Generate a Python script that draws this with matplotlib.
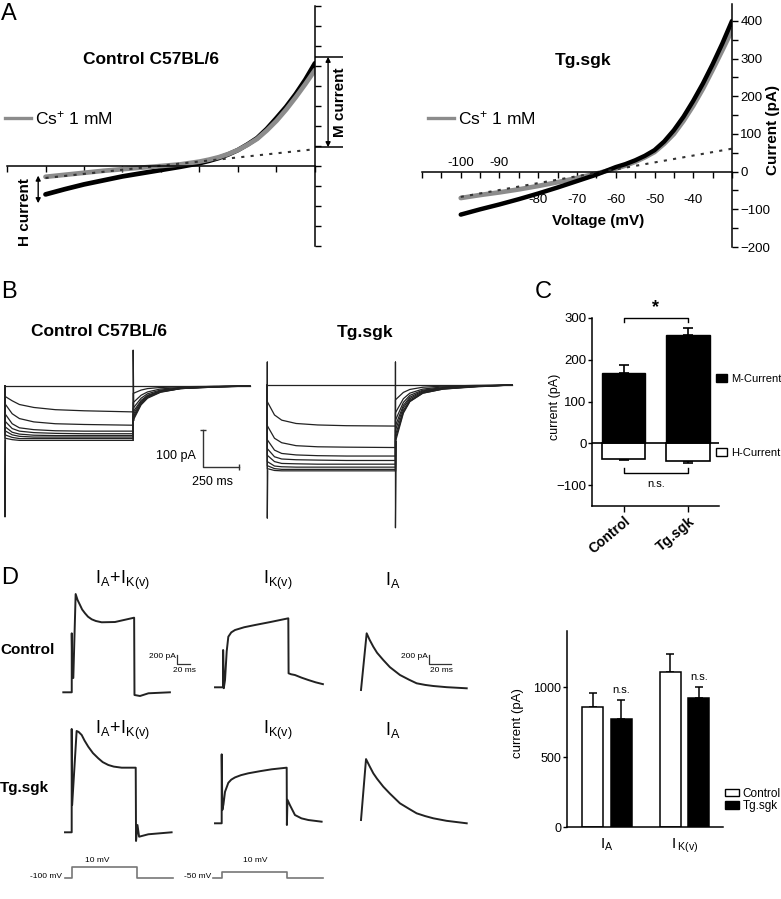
import matplotlib
matplotlib.use('Agg')
import matplotlib.pyplot as plt
from matplotlib.lines import Line2D
from matplotlib.patches import Patch

plt.rcParams['font.family'] = ['Liberation Sans', 'DejaVu Sans']
plt.rcParams['mathtext.default'] = 'regular'

# ---------------- data ----------------
# A: I-V ramps (mV, pA)
V_IV = [-100, -95, -90, -85, -80, -75, -70, -65, -60, -57.5, -55, -52.5, -50, -47.5,
        -45, -42.5, -40, -37.5, -35, -32.5, -30]
ctrl_black = [-71, -58, -46, -36, -26, -18, -10, -2, 7, 13, 20, 29, 40, 54,
              70, 93, 120, 148, 180, 216, 257]
ctrl_cs = [-27, -22, -17, -12, -8, -4, 0, 4, 11, 16, 22, 30, 40, 53,
           68, 89, 113, 141, 172, 205, 240]
tg_black = [-114, -100, -87, -73, -58, -42, -25, -8, 12, 20, 30, 42, 57, 80,
            110, 146, 188, 234, 285, 340, 400]
tg_cs = [-70, -62, -55, -47, -38, -28, -17, -5, 8, 16, 26, 38, 52, 74,
         100, 135, 175, 220, 270, 322, 375]
leak_v = [-100, -30]
ctrl_leak = [-30, 42]
tg_leak = [-67, 61]
ctrl_M = [47, 273]
ctrl_H = [-24, -93]

# B: current traces (ms, pA)
T_B = [0, 0, 50, 100, 200, 350, 550, 890, 890, 945, 990, 1080, 1220, 1450, 1700]
B_ctrl = [
    [0, 0, 0, 0, 0, 0, 0, 0, 0, 0, 0, 0, 0, 0, 0],
    [0, -28, -40, -50, -58, -64, -67, -70, -20, -11, -7, -4, -2, -1, 0],
    [0, -48, -75, -88, -97, -102, -104, -106, -45, -25, -16, -8, -4, -1, 0],
    [0, -75, -102, -113, -118, -121, -122, -122, -60, -33, -21, -11, -5, -2, 0],
    [0, -95, -115, -122, -126, -128, -129, -129, -70, -39, -25, -13, -6, -2, 0],
    [0, -110, -125, -130, -133, -134, -134, -134, -77, -42, -27, -14, -6, -2, 0],
    [0, -121, -132, -136, -138, -138, -138, -138, -83, -46, -29, -15, -7, -2, 0],
    [0, -132, -139, -142, -142, -142, -142, -142, -88, -48, -31, -16, -7, -3, 0],
    [0, -141, -145, -147, -147, -147, -147, -147, -93, -51, -33, -17, -7, -3, 0],
]
B_tg = [
    [0, 0, 0, 0, 0, 0, 0, 0, 0, 0, 0, 0, 0, 0, 0],
    [0, -45, -81, -95, -104, -108, -110, -111, -40, -20, -12, -6, -3, -1, 0],
    [0, -110, -144, -156, -164, -167, -168, -169, -75, -37, -22, -11, -5, -2, 0],
    [0, -148, -176, -185, -189, -191, -192, -192, -95, -47, -28, -14, -7, -3, 0],
    [0, -172, -194, -200, -202, -203, -204, -204, -110, -55, -33, -16, -8, -3, 0],
    [0, -190, -207, -212, -213, -214, -214, -214, -122, -61, -37, -18, -9, -4, 0],
    [0, -207, -219, -221, -222, -222, -222, -222, -135, -68, -41, -20, -10, -4, 0],
    [0, -218, -226, -228, -228, -228, -228, -228, -145, -73, -44, -22, -11, -4, 0],
    [0, -226, -231, -232, -232, -232, -232, -232, -153, -76, -45, -22, -11, -5, 0],
]
B_ctrl_on = ([0, 0, 3], [0, -354, -147])
B_ctrl_off = ([890, 890, 895], [-147, 97, -93])
B_tg_on = ([0, 0, 0, 3], [0, 62, -360, -232])
B_tg_off = ([890, 890, 890, 895], [-232, 62, -386, -153])

# C: M- and H-current (pA)
C_groups = ['Control', 'Tg.sgk']
M_mean = [168, 260]
M_err = [20, 17]
H_mean = [-38, -43]
H_err = [3, 3]

# D: traces (ms, pA)
D_c1_t = [0, 13, 13, 14, 15.4, 19, 22, 25.7, 29, 33.4, 38, 43.7, 50, 59, 79.5, 109,
          109.5, 118, 131, 164]
D_c1_i = [0, 0, 1311, 318, 318, 2184, 2050, 1940, 1840, 1756, 1680, 1622, 1585, 1556,
          1562, 1658, -60, -82, -22, 0]
D_c2_t = [0, 12.5, 12.5, 13.5, 15.4, 18, 20.5, 25, 30.8, 45, 61.5, 85, 112.8, 113.2,
          117, 123, 133, 143.6, 155, 166]
D_c2_i = [0, 0, 829, -20, 160, 800, 1124, 1220, 1273, 1335, 1384, 1450, 1533, 311,
          290, 273, 215, 162, 110, 70]
D_c3_t = [0, 5.3, 8, 11.5, 15, 20.8, 27, 36.4, 45, 52, 60, 67.6, 80, 98.8]
D_c3_i = [-38, 1222, 1080, 924, 790, 629, 470, 296, 190, 111, 75, 51, 25, 0]
D_t1_t = [0, 10.3, 10.3, 11, 17.9, 21, 25.7, 30, 35.8, 43, 51.2, 58, 66.6, 75, 87.2,
          108.8, 109.3, 111.5, 114, 128.2, 164]
D_t1_i = [0, 0, 2296, 607, 2251, 2230, 2162, 2040, 1902, 1760, 1644, 1560, 1496, 1460,
          1436, 1436, -193, 162, -98, -44, 0]
D_t2_t = [0, 10.3, 10.3, 11.3, 13, 15.4, 20.5, 25, 30.8, 40, 51.2, 70, 87.2, 110.3,
          110.6, 111.5, 115.4, 123, 133, 143.6, 164]
D_t2_i = [0, 0, 1533, 296, 420, 700, 900, 970, 1020, 1070, 1111, 1160, 1200, 1236,
          -38, 522, 400, 184, 110, 73, 36]
D_t3_t = [0, 4.7, 8, 11.5, 15, 20.8, 27, 36.4, 45, 52, 60, 67.6, 80, 98.8]
D_t3_i = [73, 1427, 1270, 1111, 990, 815, 660, 444, 320, 222, 160, 111, 55, 0]
P1_t = [0, 10.8, 10.8, 110.8, 110.8, 166]
P1_v = [-100, -100, 10, 10, -100, -100]
P2_t = [0, 13.8, 13.8, 113.8, 113.8, 169]
P2_v = [-50, -50, 10, 10, -50, -50]

# D: bar chart (pA)
D_groups = [r'$I_A$', r'$I\,_{K(v)}$']
D_ctrl = [860, 1105]
D_ctrl_err = [97, 130]
D_tg = [775, 918]
D_tg_err = [130, 80]

# ---------------- layout helpers ----------------
W, H = 781, 899
fig = plt.figure(figsize=(W / 100, H / 100), dpi=100)
fig.patch.set_facecolor('white')


def px_axes(x0, y0, x1, y1):
    ax = fig.add_axes([x0 / W, 1 - y1 / H, (x1 - x0) / W, (y1 - y0) / H])
    ax.patch.set_alpha(0)
    return ax


def trace_axes(ox, oy, sx, sy, xlim, ylim):
    # (ox, oy): pixel of data (0, 0); sx, sy: pixels per data unit
    ax = px_axes(ox + xlim[0] * sx, oy - ylim[1] * sy, ox + xlim[1] * sx, oy - ylim[0] * sy)
    ax.set_xlim(xlim)
    ax.set_ylim(ylim)
    ax.axis('off')
    return ax


def ftext(x, y, s, **kw):
    kw.setdefault('ha', 'center')
    kw.setdefault('va', 'center')
    fig.text(x / W, 1 - y / H, s, **kw)


GRAY = '#8c8c8c'

# ---------------- A ----------------
def iv_axes(box, ylim):
    ax = px_axes(*box)
    ax.set_xlim(-110, -30)
    ax.set_ylim(*ylim)
    ax.spines['top'].set_visible(False)
    ax.spines['left'].set_visible(False)
    ax.spines['bottom'].set_position(('data', 0))
    for s in ('bottom', 'right'):
        ax.spines[s].set_linewidth(1.1)
    ax.yaxis.tick_right()
    ax.tick_params(which='both', direction='out', width=1.0, length=4)
    return ax


axL = iv_axes((7, 6, 315, 246), (-200, 400))
axL.set_xticks(range(-110, -29, 10))
axL.set_yticks(range(-200, 401, 50))
axL.set_xticklabels([])
axL.set_yticklabels([])
axL.plot(V_IV, ctrl_black, color='black', lw=3.4, solid_capstyle='round', solid_joinstyle='round')
axL.plot(V_IV, ctrl_cs, color=GRAY, lw=3.4, solid_capstyle='round', solid_joinstyle='round')
axL.plot(leak_v, ctrl_leak, color='#333333', lw=1.5, ls=(0, (1.5, 3)))
# M current bracket
axL.hlines(ctrl_M, -30, -22.7, color='black', lw=1.1, clip_on=False)
axL.annotate('', xy=(-26.6, ctrl_M[0]), xytext=(-26.6, ctrl_M[1]),
             arrowprops=dict(arrowstyle='<|-|>', color='black', lw=1, mutation_scale=7,
                             shrinkA=0, shrinkB=0), annotation_clip=False)
axL.text(-23.4, sum(ctrl_M) / 2, 'M current', rotation=90, ha='center', va='center',
         fontsize=11, fontweight='bold', clip_on=False)
axL.annotate('', xy=(-101.9, ctrl_H[0]), xytext=(-101.9, ctrl_H[1]),
             arrowprops=dict(arrowstyle='<|-|>', color='black', lw=1, mutation_scale=7,
                             shrinkA=0, shrinkB=0), annotation_clip=False)
axL.text(-105.3, -115, 'H current', rotation=90, ha='center', va='center',
         fontsize=11, fontweight='bold', clip_on=False)

axR = iv_axes((422, 4, 732, 247), (-200, 445))
axR.set_xticks(range(-110, -29, 10))
axR.set_xticks(range(-105, -30, 10), minor=True)
axR.set_xticklabels([])
axR.set_yticks(range(-200, 401, 100))
axR.set_yticks(range(-150, 401, 100), minor=True)
axR.tick_params(axis='y', labelsize=9.5, pad=2)
axR.plot(V_IV, tg_cs, color=GRAY, lw=3.4, solid_capstyle='round', solid_joinstyle='round')
axR.plot(V_IV, tg_black, color='black', lw=3.2, solid_capstyle='round', solid_joinstyle='round')
axR.plot(leak_v, tg_leak, color='#333333', lw=1.5, ls=(0, (1.5, 3)))
for v in range(-100, -39, 10):
    axR.text(v, 23 if v <= -90 else -75, str(v), ha='center', va='center', fontsize=9.5)
ftext(598, 221, 'Voltage (mV)', fontsize=11, fontweight='bold')
ftext(773, 130, 'Current (pA)', fontsize=11, fontweight='bold', rotation=90)

for ax, x0 in ((axL, 5), (axR, 428)):
    ax.legend(handles=[Line2D([], [], color=GRAY, lw=2.4)], labels=[r'Cs$^{+}$ 1 mM'],
              loc='center left', bbox_to_anchor=(x0 / W, 1 - 118 / H),
              bbox_transform=fig.transFigure, frameon=False, fontsize=12.5,
              handlelength=1.5, handletextpad=0.25, borderpad=0, borderaxespad=0)

ftext(151, 59, 'Control C57BL/6', fontsize=12.5, fontweight='bold')
ftext(583, 61, 'Tg.sgk', fontsize=12.5, fontweight='bold')
ftext(1, 14, 'A', fontsize=17, ha='left')

# ---------------- B ----------------
SXB, SYB = 0.144, 0.37
axB1 = trace_axes(5, 386, SXB, SYB, (-20, 1720), (-400, 110))
axB2 = trace_axes(267.3, 385, SXB, SYB, (-20, 1720), (-420, 110))
for ax, traces, on, off in ((axB1, B_ctrl, B_ctrl_on, B_ctrl_off),
                            (axB2, B_tg, B_tg_on, B_tg_off)):
    for tr in traces:
        ax.plot(T_B, tr, color='#222222', lw=0.9)
    ax.plot(*on, color='#222222', lw=0.9)
    ax.plot(*off, color='#222222', lw=0.9)
# scale bar 100 pA / 250 ms
axB1.plot([1375, 1375, 1625], [-119, -219, -219], color='#333333', lw=1, clip_on=False)
axB1.plot([1375], [-119], marker='_', ms=5, color='#333333', clip_on=False)
axB1.plot([1625], [-219], marker='|', ms=5, color='#333333', clip_on=False)
ftext(196, 456, '100 pA', fontsize=9, ha='right')
ftext(212, 482, '250 ms', fontsize=9)
ftext(99, 332, 'Control C57BL/6', fontsize=12.5, fontweight='bold')
ftext(365, 332, 'Tg.sgk', fontsize=12.5, fontweight='bold')
ftext(1, 292, 'B', fontsize=17, ha='left')

# ---------------- C ----------------
axC = px_axes(592, 318, 719, 506)
xc = list(range(len(C_groups)))
axC.bar(xc, M_mean, width=0.67, color='black', edgecolor='black', lw=1, zorder=2)
axC.bar(xc, H_mean, width=0.67, color='white', edgecolor='black', lw=1.2, zorder=2)
axC.errorbar(xc, M_mean, yerr=[[0] * len(xc), M_err], fmt='none', ecolor='black',
             elinewidth=1.2, capsize=3.6, capthick=1.2, zorder=1)
axC.errorbar(xc, H_mean, yerr=[H_err, [0] * len(xc)], fmt='none', ecolor='black',
             elinewidth=1.2, capsize=3.6, capthick=1.2, zorder=1)
axC.axhline(0, color='black', lw=1.2, zorder=3)
axC.set_xlim(-0.49, 1.48)
axC.set_ylim(-150, 300)
axC.set_yticks([-100, 0, 100, 200, 300])
axC.set_xticks(xc)
axC.set_xticklabels(C_groups, rotation=40, ha='right', rotation_mode='anchor',
                    fontsize=10, fontweight='bold')
axC.tick_params(axis='y', labelsize=9.5, length=3, width=1, pad=1)
axC.tick_params(axis='x', length=4, width=1, pad=2)
for s in ('top', 'right'):
    axC.spines[s].set_visible(False)
for s in ('left', 'bottom'):
    axC.spines[s].set_linewidth(1.1)
top = max(m + e for m, e in zip(M_mean, M_err))
axC.plot([0, 0, 1, 1], [top + 13, top + 23, top + 23, top + 13], color='black', lw=1, clip_on=False)
axC.text(0.5, top + 47, '*', ha='center', va='center', fontsize=13, fontweight='bold')
axC.plot([0, 0, 1, 1], [-59, -71, -71, -59], color='black', lw=1, clip_on=False)
axC.text(0.5, -97, 'n.s.', ha='center', va='center', fontsize=8)
lg1 = axC.legend(handles=[Patch(fc='black', ec='black')], labels=['M-Current'],
                 loc='center left', bbox_to_anchor=(716 / W, 1 - 379 / H),
                 bbox_transform=fig.transFigure, frameon=False, fontsize=8,
                 handlelength=1.0, handleheight=0.8, handletextpad=0.35,
                 borderpad=0, borderaxespad=0)
axC.add_artist(lg1)
axC.legend(handles=[Patch(fc='white', ec='black')], labels=['H-Current'],
           loc='center left', bbox_to_anchor=(716 / W, 1 - 453 / H),
           bbox_transform=fig.transFigure, frameon=False, fontsize=8,
           handlelength=1.0, handleheight=0.8, handletextpad=0.35,
           borderpad=0, borderaxespad=0)
ftext(555, 407, 'current (pA)', fontsize=9, rotation=90)
ftext(535, 292, 'C', fontsize=17, ha='left')

# ---------------- D traces ----------------
SXD, SYD = 0.65, 0.045
SXA = 1.07
trace_kw = dict(color='#222222', lw=1.4, solid_joinstyle='round')
axD1 = trace_axes(63.3, 692.3, SXD, SYD, (-2, 170), (-400, 2500))
axD1.plot(D_c1_t, D_c1_i, **trace_kw)
axD2 = trace_axes(215, 687.3, SXD, SYD, (-2, 170), (-400, 2500))
axD2.plot(D_c2_t, D_c2_i, **trace_kw)
axD3 = trace_axes(361, 688.3, SXA, SYD, (-2, 102), (-400, 2500))
axD3.plot(D_c3_t, D_c3_i, **trace_kw)
axD4 = trace_axes(65, 832.3, SXD, SYD, (-2, 170), (-400, 2500))
axD4.plot(D_t1_t, D_t1_i, **trace_kw)
axD5 = trace_axes(215, 823.3, SXD, SYD, (-2, 170), (-400, 2500))
axD5.plot(D_t2_t, D_t2_i, **trace_kw)
axD6 = trace_axes(361, 823.3, SXA, SYD, (-2, 102), (-400, 2500))
axD6.plot(D_t3_t, D_t3_i, **trace_kw)
# scale bars 200 pA / 20 ms
for ax, t0, i0 in ((axD1, 174.5, 629), (axD3, 63.8, 540)):
    ax.plot([t0, t0, t0 + 20], [i0 + 200, i0, i0], color='#333333', lw=0.9, clip_on=False)
ftext(176, 657, '200 pA', fontsize=6, ha='right')
ftext(184, 670, '20 ms', fontsize=6)
ftext(428, 657, '200 pA', fontsize=6, ha='right')
ftext(441, 670, '20 ms', fontsize=6)
# voltage protocols
axP1 = trace_axes(65, 868, SXD, 0.1, (-2, 170), (-120, 30))
axP1.plot(P1_t, P1_v, color='#777777', lw=1.2)
axP2 = trace_axes(213, 873, SXD, 0.1, (-2, 170), (-70, 30))
axP2.plot(P2_t, P2_v, color='#777777', lw=1.2)
ftext(62, 876, '-100 mV', fontsize=6, ha='right')
ftext(97, 861, '10 mV', fontsize=6)
ftext(211, 876, '-50 mV', fontsize=6, ha='right')
ftext(255, 861, '10 mV', fontsize=6)

for y in (580, 730):
    ftext(123, y, r'$I_A\!+\!I_{K(v)}$', fontsize=13)
    ftext(278, y, r'$I_{K(v)}$', fontsize=13)
    ftext(393, y, r'$I_A$', fontsize=13)
ftext(0, 650, 'Control', fontsize=11, fontweight='bold', ha='left')
ftext(0, 788, 'Tg.sgk', fontsize=11, fontweight='bold', ha='left')
ftext(1, 578, 'D', fontsize=17, ha='left')

# ---------------- D bar chart ----------------
axE = px_axes(567, 631, 723, 827)
xd = list(range(len(D_groups)))
off = 0.184
axE.bar([x - off for x in xd], D_ctrl, width=0.27, color='white', edgecolor='black', lw=1.1, zorder=2)
axE.bar([x + off for x in xd], D_tg, width=0.27, color='black', edgecolor='black', lw=1.1, zorder=2)
axE.errorbar([x - off for x in xd], D_ctrl, yerr=[[0] * 2, D_ctrl_err], fmt='none', ecolor='black',
             elinewidth=1.1, capsize=2.6, capthick=1.1, zorder=1)
axE.errorbar([x + off for x in xd], D_tg, yerr=[[0] * 2, D_tg_err], fmt='none', ecolor='black',
             elinewidth=1.1, capsize=2.6, capthick=1.1, zorder=1)
for x, m, e in zip(xd, D_tg, D_tg_err):
    axE.text(x + off, m + e + 35, 'n.s.', ha='center', va='bottom', fontsize=8)
axE.set_xlim(-0.516, 1.497)
axE.set_ylim(0, 1400)
axE.set_yticks([0, 500, 1000])
axE.set_xticks(xd)
axE.set_xticklabels(D_groups, fontsize=11)
axE.tick_params(axis='x', length=0, pad=7)
axE.tick_params(axis='y', labelsize=9, length=3, width=1, pad=1)
for s in ('top', 'right'):
    axE.spines[s].set_visible(False)
for s in ('left', 'bottom'):
    axE.spines[s].set_linewidth(1.1)
axE.legend(handles=[Patch(fc='white', ec='black'), Patch(fc='black', ec='black')],
           labels=['Control', 'Tg.sgk'], loc='center left',
           bbox_to_anchor=(725 / W, 1 - 800 / H), bbox_transform=fig.transFigure,
           frameon=False, fontsize=8.5, handlelength=1.2, handleheight=0.6,
           handletextpad=0.3, labelspacing=0.05, borderpad=0, borderaxespad=0)
ftext(518, 723, 'current (pA)', fontsize=9.5, rotation=90)

fig.savefig('out.png', dpi=100, facecolor='white')
